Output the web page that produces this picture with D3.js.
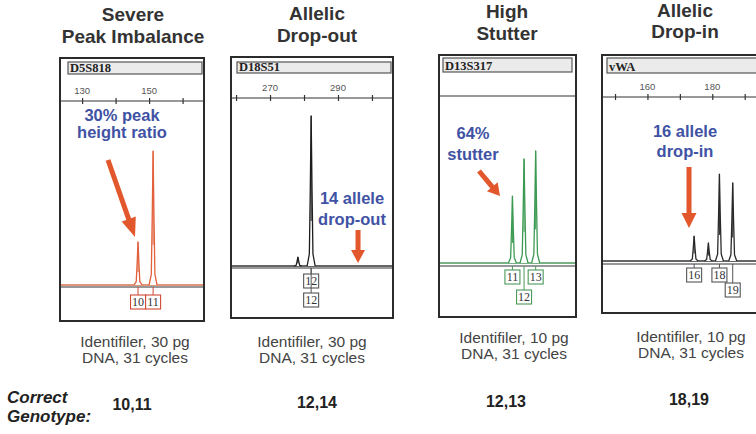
<!DOCTYPE html>
<html><head><meta charset="utf-8">
<script src="https://cdn.jsdelivr.net/npm/d3@7"></script>
<style>body{margin:0;background:#fff}svg{display:block}</style>
</head><body><svg id="c" width="756" height="434"></svg>
<script>
// ---------- DATA ----------
const titleLine1 = ["Severe", "Allelic", "High", "Allelic"];
const titleLine2 = ["Peak Imbalance", "Drop-out", "Stutter", "Drop-in"];
const loci = ["D5S818", "D18S51", "D13S317", "vWA"];
const kitLine1 = ["Identifiler, 30 pg", "Identifiler, 30 pg", "Identifiler, 10 pg", "Identifiler, 10 pg"];
const kitLine2 = ["DNA, 31 cycles", "DNA, 31 cycles", "DNA, 31 cycles", "DNA, 31 cycles"];
const genotypes = ["10,11", "12,14", "12,13", "18,19"];
const noteLine1 = ["30% peak", "14 allele", "64%", "16 allele"];
const noteLine2 = ["height ratio", "drop-out", "stutter", "drop-in"];

// peaks: fragment size (bp) and relative height
const d5s818Size = [146.7, 151.2];
const d5s818Height = [234, 728];
const d18s51Size = [278.2, 282.1];
const d18s51Height = [53, 893];
const d13s317Size = [220, 224, 228];
const d13s317Height = [401, 623, 671];
const vwaSize = [174.4, 178.8, 182.2, 186.3];
const vwaHeight = [152, 110, 530, 476];

// allele call boxes: text, index of peak, row
const d5s818Calls = ["10", "11"], d5s818CallPeak = [0, 1], d5s818CallRow = [0, 0];
const d18s51Calls = ["12", "12"], d18s51CallPeak = [1, 1], d18s51CallRow = [0, 1];
const d13s317Calls = ["11", "13", "12"], d13s317CallPeak = [0, 2, 1], d13s317CallRow = [0, 0, 1];
const vwaCalls = ["16", "18", "19"], vwaCallPeak = [0, 2, 3], vwaCallRow = [0, 0, 1];

// size axis ticks
const d5s818Ticks = [130, 140, 150, 160], d5s818TickLabels = [130, 150];
const d18s51Ticks = [260, 270, 280, 290, 300], d18s51TickLabels = [270, 290];
const d13s317Ticks = [], d13s317TickLabels = [];
const vwaTicks = [150, 160, 170, 180, 190], vwaTickLabels = [160, 180];

// drop-out position marker (bp) for D18S51
const dropOutSize = 295.9;

// ---------- LAYOUT ----------
const panels = [
  {size: d5s818Size, height: d5s818Height, calls: d5s818Calls, callPeak: d5s818CallPeak, callRow: d5s818CallRow,
   ticks: d5s818Ticks, tickLabels: d5s818TickLabels,
   box: [60, 58, 204, 321], header: [68, 62, 202, 74], axisY: 101, baseY: 285, sepY: 287,
   domain: [124.0, 165.8], rowTop: [295, 0], peakColor: "#e2603c", baseColor: "#d9704f", callColor: "#cf4a35",
   title: [133, 21, 43], kit: [135, 347, 363], geno: [132, 410],
   note: [122, 121, 138], arrow: [108, 160, 135, 237, 5, 15, 19]},
  {size: d18s51Size, height: d18s51Height, calls: d18s51Calls, callPeak: d18s51CallPeak, callRow: d18s51CallRow,
   ticks: d18s51Ticks, tickLabels: d18s51TickLabels,
   box: [231, 57, 393, 318], header: [237, 62, 391, 73], axisY: 98, baseY: 266, sepY: 268,
   domain: [259.1, 305.6], rowTop: [274, 293], peakColor: "#1e1e1e", baseColor: "#333", callColor: "#555",
   title: [317, 20, 42], kit: [312, 347, 363], geno: [317, 408],
   note: [352, 204, 225], arrow: null},
  {size: d13s317Size, height: d13s317Height, calls: d13s317Calls, callPeak: d13s317CallPeak, callRow: d13s317CallRow,
   ticks: d13s317Ticks, tickLabels: d13s317TickLabels,
   box: [439, 55, 576, 317], header: [443, 58, 572, 72], axisY: 96, baseY: 263, sepY: 266,
   domain: [195.4, 241.2], rowTop: [270, 290], peakColor: "#3c9a52", baseColor: "#4a9a5c", callColor: "#4a9a5a",
   title: [507, 18, 40], kit: [514, 343, 359], geno: [506, 407],
   note: [473, 139, 160], arrow: [479, 171, 500, 196, 5, 14, 12]},
  {size: vwaSize, height: vwaHeight, calls: vwaCalls, callPeak: vwaCallPeak, callRow: vwaCallRow,
   ticks: vwaTicks, tickLabels: vwaTickLabels,
   box: [602, 55, 772, 313], header: [607, 58, 772, 73], axisY: 97, baseY: 261, sepY: 264,
   domain: [146.6, 197.8], rowTop: [268, 283], peakColor: "#2a2a2a", baseColor: "#333", callColor: "#555",
   title: [685, 17, 38], kit: [691, 342, 358], geno: [689, 405],
   note: [685, 137, 157], arrow: [689, 167, 689, 228, 5, 15, 15]}
];

const svg = d3.select("#c");
const SANS = "'Liberation Sans', Arial, Helvetica, sans-serif";
const SERIF = "'Liberation Serif', 'Times New Roman', serif";
const ARROW = "#e2572b", NOTE = "#3f52a4";

function arrow(g, x1, y1, x2, y2, w, hw, hl) {
  const dx = x2 - x1, dy = y2 - y1, L = Math.hypot(dx, dy);
  const ux = dx / L, uy = dy / L, px = -uy, py = ux;
  const bx = x2 - ux * hl, by = y2 - uy * hl;
  const pts = [
    [x1 + px * w / 2, y1 + py * w / 2], [bx + px * w / 2, by + py * w / 2],
    [bx + px * hw / 2, by + py * hw / 2], [x2, y2],
    [bx - px * hw / 2, by - py * hw / 2], [bx - px * w / 2, by - py * w / 2],
    [x1 - px * w / 2, y1 - py * w / 2]];
  g.append("path").attr("d", d3.line()(pts) + "Z").attr("fill", ARROW);
}

panels.forEach((p, i) => {
  const g = svg.append("g");
  const [bx0, by0, bx1, by1] = p.box;
  const x = d3.scaleLinear().domain(p.domain).range([bx0 + 2, bx1 - 2]);
  const y = d3.scaleLinear().domain([0, 1000]).range([p.baseY, p.axisY]);

  // titles
  g.append("text").attr("x", p.title[0]).attr("y", p.title[1]).attr("text-anchor", "middle")
    .attr("font-family", SANS).attr("font-weight", "bold").attr("font-size", 19).attr("fill", "#333").text(titleLine1[i]);
  g.append("text").attr("x", p.title[0]).attr("y", p.title[2]).attr("text-anchor", "middle")
    .attr("font-family", SANS).attr("font-weight", "bold").attr("font-size", 19).attr("fill", "#333").text(titleLine2[i]);

  // panel box
  g.append("rect").attr("x", bx0).attr("y", by0).attr("width", bx1 - bx0).attr("height", by1 - by0)
    .attr("fill", "#fff").attr("stroke", "#2b2b2b").attr("stroke-width", 2);
  // header
  const [hx0, hy0, hx1, hy1] = p.header;
  g.append("rect").attr("x", hx0).attr("y", hy0).attr("width", hx1 - hx0).attr("height", hy1 - hy0)
    .attr("fill", "#ebebeb").attr("stroke", "#555").attr("stroke-width", 1.2);
  g.append("text").attr("x", hx0 + 2).attr("y", hy1 - 2).attr("font-family", SERIF).attr("font-weight", "bold")
    .attr("font-size", 12.5).attr("fill", "#222").text(loci[i]);

  // size axis
  const axG = g.append("g").attr("transform", `translate(0,${p.axisY})`);
  axG.call(d3.axisTop(x).tickValues(p.ticks).tickSize(0).tickFormat(""));
  axG.select(".domain").remove();
  axG.append("line").attr("x1", bx0).attr("x2", bx1).attr("stroke", "#333").attr("stroke-width", 1.2);
  axG.selectAll(".tick line").attr("y1", -3).attr("y2", 3).attr("stroke", "#333").attr("stroke-width", 1.2);
  axG.selectAll(".lab").data(p.tickLabels).join("text").attr("class", "lab")
    .attr("x", d => x(d)).attr("y", -7).attr("text-anchor", "middle")
    .attr("font-family", SANS).attr("font-size", 9.5).attr("fill", "#555").text(d => d);

  // baseline & separator
  g.append("line").attr("x1", bx0 + 1).attr("x2", bx1 - 1).attr("y1", y(0)).attr("y2", y(0))
    .attr("stroke", p.baseColor).attr("stroke-width", 1.3);
  g.append("line").attr("x1", bx0).attr("x2", bx1).attr("y1", p.sepY).attr("y2", p.sepY)
    .attr("stroke", "#333").attr("stroke-width", 1.2);

  // peaks
  const shape = [[-4, 0], [-1.8, 0.08], [-0.9, 0.5], [0, 1], [0.9, 0.5], [1.8, 0.08], [4, 0]];
  p.size.forEach((s, k) => {
    const h = p.height[k];
    const pts = shape.map(([dx, f]) => [x(s) + dx, y(h * f)]);
    g.append("path").attr("d", d3.line()(pts)).attr("fill", "#fff")
      .attr("stroke", p.peakColor).attr("stroke-width", 1.3).attr("stroke-linejoin", "round");
    g.append("line").attr("x1", x(s)).attr("x2", x(s)).attr("y1", y(h)).attr("y2", y(h * 0.3))
      .attr("stroke", p.peakColor).attr("stroke-width", 1);
  });

  // allele call boxes
  p.calls.forEach((c, k) => {
    const cx = x(p.size[p.callPeak[k]]);
    const top = p.rowTop[p.callRow[k]];
    g.append("line").attr("x1", cx).attr("x2", cx).attr("y1", p.sepY).attr("y2", top)
      .attr("stroke", p.callColor).attr("stroke-width", 1);
    g.append("rect").attr("x", cx - 7.5).attr("y", top).attr("width", 15).attr("height", 14)
      .attr("fill", "#fff").attr("stroke", p.callColor).attr("stroke-width", 1.1);
    g.append("text").attr("x", cx).attr("y", top + 11).attr("text-anchor", "middle")
      .attr("font-family", SERIF).attr("font-size", 12).attr("fill", "#333").text(c);
  });

  // annotations
  g.append("text").attr("x", p.note[0]).attr("y", p.note[1]).attr("text-anchor", "middle")
    .attr("font-family", SANS).attr("font-weight", "bold").attr("font-size", 16.5).attr("fill", NOTE).text(noteLine1[i]);
  g.append("text").attr("x", p.note[0]).attr("y", p.note[2]).attr("text-anchor", "middle")
    .attr("font-family", SANS).attr("font-weight", "bold").attr("font-size", 16.5).attr("fill", NOTE).text(noteLine2[i]);
  if (p.arrow) {
    const a = p.arrow;
    arrow(g, a[0], a[1], a[2], a[3], a[4], a[5], a[6]);
  } else {
    arrow(g, x(dropOutSize), 230, x(dropOutSize), 263, 5, 14, 13);
  }

  // kit text
  g.append("text").attr("x", p.kit[0]).attr("y", p.kit[1]).attr("text-anchor", "middle")
    .attr("font-family", SANS).attr("font-size", 15.5).attr("fill", "#444").text(kitLine1[i]);
  g.append("text").attr("x", p.kit[0]).attr("y", p.kit[2]).attr("text-anchor", "middle")
    .attr("font-family", SANS).attr("font-size", 15.5).attr("fill", "#444").text(kitLine2[i]);

  // genotype
  g.append("text").attr("x", p.geno[0]).attr("y", p.geno[1]).attr("text-anchor", "middle")
    .attr("font-family", SANS).attr("font-weight", "bold").attr("font-size", 16).attr("fill", "#222").text(genotypes[i]);
});

svg.append("text").attr("x", 7).attr("y", 403).attr("font-family", SANS).attr("font-weight", "bold")
  .attr("font-style", "italic").attr("font-size", 17).attr("fill", "#222").text("Correct");
svg.append("text").attr("x", 7).attr("y", 422).attr("font-family", SANS).attr("font-weight", "bold")
  .attr("font-style", "italic").attr("font-size", 17).attr("fill", "#222").text("Genotype:");
</script></body></html>
